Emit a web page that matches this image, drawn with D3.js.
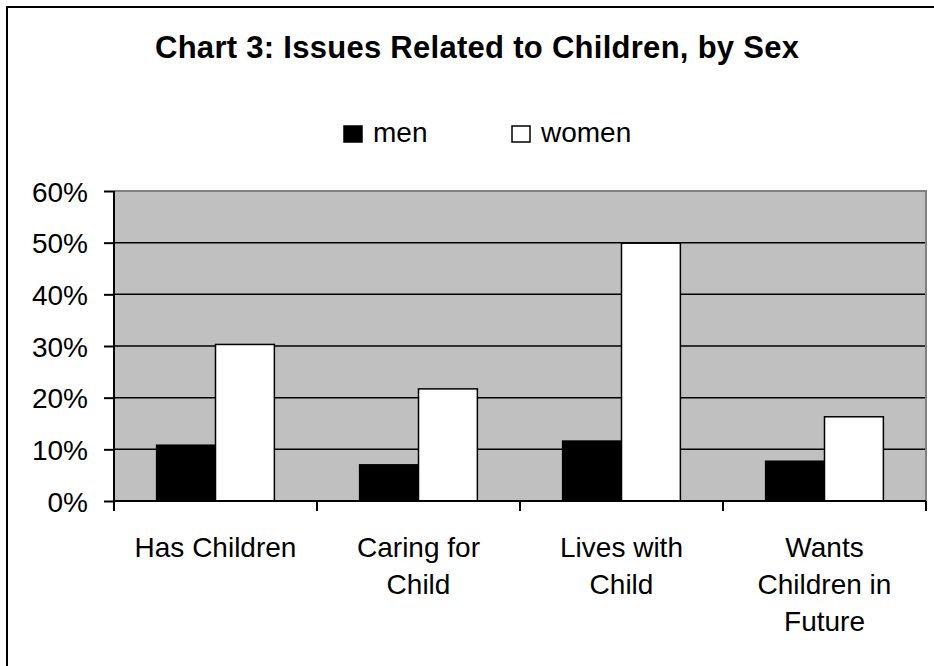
<!DOCTYPE html>
<html>
<head>
<meta charset="utf-8">
<script src="https://cdn.jsdelivr.net/npm/d3@7"></script>
<style>
  html, body { margin: 0; padding: 0; background: #fff; }
  svg { display: block; }
  text { font-family: Arial, "Liberation Sans", sans-serif; fill: #000; }
</style>
</head>
<body>
<svg id="chart" width="934" height="666"></svg>
<script>
// Survey shares by category and sex
const categories = [
  ["Has Children"],
  ["Caring for", "Child"],
  ["Lives with", "Child"],
  ["Wants", "Children in", "Future"]
];
const seriesNames = ["men", "women"];
const men   = [0.108, 0.070, 0.116, 0.077];
const women = [0.303, 0.217, 0.499, 0.163];
const yTicks = [0, 0.1, 0.2, 0.3, 0.4, 0.5, 0.6];
const fills = { men: "#000000", women: "#ffffff" };

const svg = d3.select("#chart");
const W = 934, H = 666;
const plot = { left: 114, right: 926, top: 191, bottom: 501 };

// outer frame (runs off the right and bottom edges)
svg.append("rect")
  .attr("x", 7).attr("y", 7)
  .attr("width", W + 20).attr("height", H + 20)
  .attr("fill", "#fff").attr("stroke", "#000").attr("stroke-width", 2);

// title
svg.append("text")
  .attr("x", 477).attr("y", 58)
  .attr("text-anchor", "middle")
  .attr("font-size", 31).attr("font-weight", "bold")
  .attr("textLength", 644).attr("lengthAdjust", "spacing")
  .text("Chart 3: Issues Related to Children, by Sex");

const x0 = d3.scaleBand()
  .domain(d3.range(categories.length))
  .range([plot.left, plot.right])
  .paddingInner(0).paddingOuter(0);
const groupPad = 0.21;
const x1 = d3.scaleBand()
  .domain(seriesNames)
  .range([x0.bandwidth() * groupPad, x0.bandwidth() * (1 - groupPad)])
  .padding(0);
const y = d3.scaleLinear().domain([0, 0.6]).range([plot.bottom, plot.top]);

// plot background
svg.append("rect")
  .attr("x", plot.left).attr("y", plot.top)
  .attr("width", plot.right - plot.left).attr("height", plot.bottom - plot.top)
  .attr("fill", "#c0c0c0");

// gridlines
svg.append("g")
  .selectAll("line")
  .data(yTicks.filter(t => t > 0 && t < 0.6))
  .join("line")
  .attr("x1", plot.left).attr("x2", plot.right)
  .attr("y1", d => y(d)).attr("y2", d => y(d))
  .attr("stroke", "#000").attr("stroke-width", 1.5);

// plot border top/right
svg.append("path")
  .attr("d", `M${plot.left},${plot.top}H${plot.right}V${plot.bottom}`)
  .attr("fill", "none").attr("stroke", "#808080").attr("stroke-width", 2);

// bars
const data = categories.map((c, i) => ({ i, values: { men: men[i], women: women[i] } }));
svg.append("g")
  .selectAll("g")
  .data(data)
  .join("g")
  .attr("transform", d => `translate(${x0(d.i)},0)`)
  .selectAll("rect")
  .data(d => seriesNames.map(s => ({ s, v: d.values[s] })))
  .join("rect")
  .attr("x", d => x1(d.s))
  .attr("width", x1.bandwidth())
  .attr("y", d => y(d.v))
  .attr("height", d => y(0) - y(d.v))
  .attr("fill", d => fills[d.s])
  .attr("stroke", "#000").attr("stroke-width", 1.5);

// y axis
const yAxis = d3.axisLeft(y).tickValues(yTicks).tickFormat(d3.format(".0%")).tickSize(10).tickPadding(16);
const yg = svg.append("g").attr("transform", `translate(${plot.left},0)`).call(yAxis);
yg.select(".domain").attr("stroke", "#000").attr("stroke-width", 2).attr("d", `M0,${plot.top}V${plot.bottom + 10}`);
yg.selectAll(".tick line").attr("stroke", "#000").attr("stroke-width", 2);
yg.selectAll(".tick text").attr("font-size", 28).attr("font-family", "Arial, 'Liberation Sans', sans-serif").attr("fill", "#000").attr("dy", "0.36em");

// x axis with category boundary ticks
const xg = svg.append("g");
xg.append("line")
  .attr("x1", plot.left).attr("x2", plot.right)
  .attr("y1", plot.bottom).attr("y2", plot.bottom)
  .attr("stroke", "#000").attr("stroke-width", 2);
xg.selectAll("line.tk")
  .data(d3.range(categories.length + 1))
  .join("line").attr("class", "tk")
  .attr("x1", i => i < categories.length ? x0(i) : plot.right)
  .attr("x2", i => i < categories.length ? x0(i) : plot.right)
  .attr("y1", plot.bottom).attr("y2", plot.bottom + 10)
  .attr("stroke", "#000").attr("stroke-width", 2);
xg.selectAll("text")
  .data(data)
  .join("text")
  .attr("text-anchor", "middle")
  .attr("font-size", 28)
  .attr("x", d => x0(d.i) + x0.bandwidth() / 2)
  .attr("y", 557)
  .selectAll("tspan")
  .data(d => categories[d.i].map((t, k) => ({ t, k, cx: x0(d.i) + x0.bandwidth() / 2 })))
  .join("tspan")
  .attr("x", d => d.cx)
  .attr("y", d => 557 + d.k * 37)
  .text(d => d.t);

// legend
const legendItems = [
  { s: "men", bx: 344, tx: 373 },
  { s: "women", bx: 512, tx: 541 }
];
const lg = svg.append("g");
lg.selectAll("rect")
  .data(legendItems)
  .join("rect")
  .attr("x", d => d.bx).attr("y", 126)
  .attr("width", 18).attr("height", 16)
  .attr("fill", d => fills[d.s]).attr("stroke", "#000").attr("stroke-width", 1.5);
lg.selectAll("text")
  .data(legendItems)
  .join("text")
  .attr("x", d => d.tx).attr("y", 142)
  .attr("font-size", 28)
  .text(d => d.s);
</script>
</body>
</html>
